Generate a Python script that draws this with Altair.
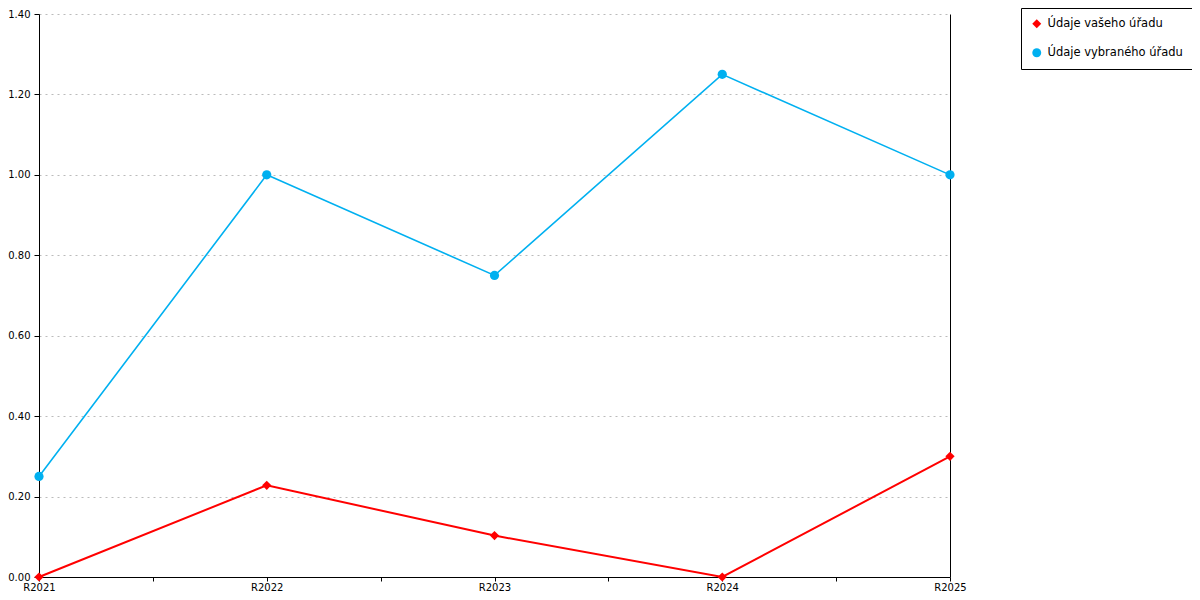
import json
import altair as alt
import pandas as pd

categories = ["R2021", "R2022", "R2023", "R2024", "R2025"]
series_names = ["Údaje vašeho úřadu", "Údaje vybraného úřadu"]
yours = [0.0, 0.228, 0.103, 0.0, 0.30]
selected = [0.25, 1.00, 0.75, 1.25, 1.00]
y_ticks = [0.0, 0.2, 0.4, 0.6, 0.8, 1.0, 1.2, 1.4]

rows = []
for name, vals in zip(series_names, [yours, selected]):
    for i, (c, v) in enumerate(zip(categories, vals)):
        rows.append({"idx": i, "cat": c, "value": v, "series": name})
df = pd.DataFrame(rows)

n = len(categories)
x_vals = [i / 2 for i in range(2 * (n - 1) + 1)]
label_expr = ("datum.value % 1 === 0 ? " + json.dumps(categories) +
              "[datum.value] : ''")

FONT = "DejaVu Sans"
color_scale = alt.Scale(domain=series_names, range=["#ff0000", "#00b0f0"])
shape_scale = alt.Scale(domain=series_names, range=["diamond", "circle"])
y_scale = alt.Scale(domain=[0, 1.4], nice=False)

x_enc = alt.X("idx:Q", scale=alt.Scale(domain=[0, n - 1], nice=False, zero=False),
              axis=alt.Axis(values=x_vals, labelExpr=label_expr, title=None, grid=False,
                            domainColor="black", tickColor="black", tickSize=4,
                            labelFont=FONT, labelFontSize=10, labelColor="black",
                            labelPadding=1, labelFlush=False))
y_enc = alt.Y("value:Q", scale=y_scale,
              axis=alt.Axis(values=y_ticks, format=".2f", title=None,
                            grid=True, gridColor="#bbbbbb", gridDash=[2, 4],
                            domainColor="black", tickColor="black", tickSize=5,
                            labelFont=FONT, labelFontSize=10, labelColor="black",
                            labelPadding=4))

base = alt.Chart(df)

line_red = base.transform_filter(alt.datum.series == series_names[0]).mark_line(strokeWidth=2).encode(
    x=x_enc,
    y=y_enc,
    color=alt.Color("series:N", scale=color_scale),
)
line_blue = base.transform_filter(alt.datum.series == series_names[1]).mark_line(strokeWidth=1.6).encode(
    x="idx:Q",
    y=alt.Y("value:Q", scale=y_scale),
    color=alt.Color("series:N", scale=color_scale),
)

points = base.mark_point(filled=True, opacity=1, size=85).encode(
    x="idx:Q",
    y=alt.Y("value:Q", scale=y_scale),
    color=alt.Color("series:N", scale=color_scale, title=None),
    shape=alt.Shape("series:N", scale=shape_scale, title=None),
)

right_axis = base.mark_point(opacity=0).encode(
    x="idx:Q",
    y=alt.Y("value:Q", scale=y_scale,
            axis=alt.Axis(orient="right", labels=False, ticks=False, grid=False,
                          title=None, domainColor="black")),
)

left = alt.layer(line_red, line_blue, points)

chart = alt.layer(left, right_axis).resolve_axis(y="independent").properties(
    width=911, height=563,
    autosize=alt.AutoSizeParams(type="none"),
    padding={"left": 31, "top": 6, "right": 242, "bottom": 15},
).configure_view(stroke=None).configure_legend(
    orient="none", legendX=982, legendY=-6,
    fillColor="white", strokeColor="black", padding=10,
    labelFont=FONT, labelFontSize=11.5, labelColor="black",
    symbolSize=80, rowPadding=16, labelOffset=5, symbolStrokeWidth=0,
    title=None,
)

chart.save("out.html", embed_options={"renderer": "svg", "actions": False})
